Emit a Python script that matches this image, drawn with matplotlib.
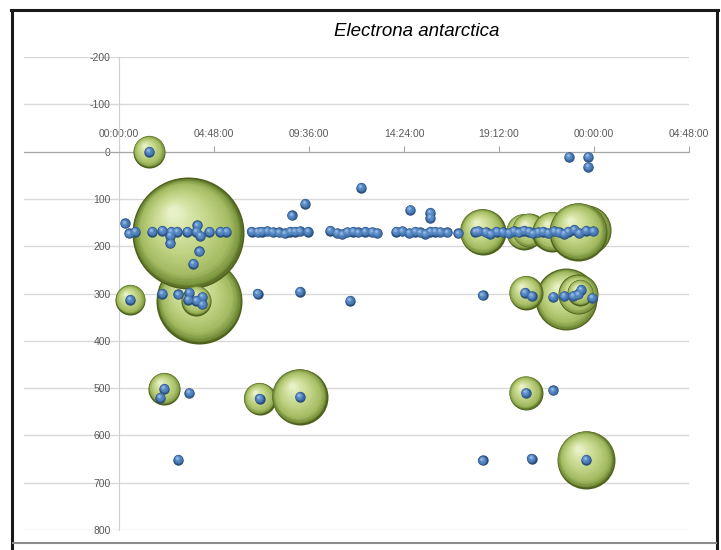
import numpy as np
import matplotlib
matplotlib.use("Agg")
import matplotlib.pyplot as plt
from matplotlib.colors import LinearSegmentedColormap
from matplotlib.lines import Line2D
from matplotlib.ticker import FixedLocator, FuncFormatter
from matplotlib.transforms import ScaledTranslation

plt.rcParams["axes.unicode_minus"] = False
plt.rcParams["font.family"] = ["Liberation Sans", "DejaVu Sans"]

# hauls: time of day (hours) and depth (m); blue = all stations
blue_hours = [
    1.52, 22.73, 23.70, 23.70,
    0.30, 0.51, 0.81, 1.67, 2.18, 2.64, 2.94, 2.59, 2.59, 3.45, 3.96, 3.91,
    4.11, 4.57, 5.12, 5.43, 4.06, 3.75,
    6.70, 7.00, 7.20, 7.50, 7.76, 8.07, 8.37, 8.63, 8.88, 9.13, 9.54, 10.66,
    11.01, 11.26, 11.52, 11.82, 12.08, 12.43, 12.79, 13.04, 14.00, 14.31,
    14.66, 14.97, 15.22, 15.48, 15.73, 15.98, 16.24, 16.59, 17.15,
    8.73, 9.39, 12.23, 14.71, 15.73, 15.73,
    18.01, 18.16, 18.52, 18.77, 19.08, 19.38, 19.69, 19.94, 20.19, 20.45,
    20.70, 20.90, 21.16, 21.41, 21.67, 21.97, 22.22, 22.48, 22.68, 22.99,
    23.24, 23.59, 23.95,
    0.56, 2.18, 2.99, 3.55, 3.50, 3.91, 4.21, 4.21, 7.00, 9.13, 11.67,
    18.37, 20.50, 20.85, 21.92, 22.48, 22.93, 23.19, 23.34, 23.90,
    2.28, 2.08, 3.55, 7.10, 9.13, 20.55, 21.92,
    2.99, 18.37, 20.85, 23.59,
]
blue_depths = [
    0, 11, 11, 32,
    152, 173, 169, 169, 167, 169, 169, 178, 194, 169, 156, 169,
    178, 169, 169, 169, 211, 237,
    169, 170, 169, 168, 170, 171, 173, 169, 169, 168, 169, 167,
    172, 175, 170, 169, 171, 169, 170, 172, 169, 168,
    172, 169, 171, 174, 169, 169, 170, 171, 173,
    135, 110, 76, 123, 129, 140,
    169, 168, 170, 174, 169, 170, 172, 168, 171, 167,
    169, 173, 170, 169, 172, 168, 170, 174, 169, 165,
    172, 167, 168,
    313, 300, 302, 298, 313, 315, 307, 323, 300, 296, 315,
    304, 298, 305, 307, 305, 305, 302, 292, 309,
    501, 520, 510, 522, 518, 510, 505,
    651, 653, 649, 651,
]

# positive catches of Electrona antarctica (green bubbles)
catch_hours = [1.52, 4.06, 3.50, 3.91, 0.56, 2.28, 7.10, 9.13,
               18.37, 20.45, 20.70, 21.70, 21.90, 23.60, 23.20,
               22.60, 20.55, 23.19, 23.30, 20.55, 23.59]
catch_depths = [0, 315, 173, 315, 313, 501, 522, 518,
                169, 169, 166, 175, 169, 166, 169,
                312, 298, 302, 298, 510, 651]
catch_counts = [8.2, 59.0, 100.0, 7.2, 7.2, 8.2, 8.2, 25.0,
                16.9, 10.3, 9.2, 8.2, 12.8, 20.0, 26.8,
                30.6, 9.2, 12.8, 5.4, 9.2, 26.8]

x_ticks = [0.0, 0.2, 0.4, 0.6, 0.8, 1.0, 1.2]
y_ticks = list(range(-200, 801, 100))

DPI = 100
W, H = 721, 550
MAX_R = 56  # pixel radius of the largest catch bubble
BLUE_R = 5.2
LIGHT_DIR = (-0.3, 0.42)

green_cmap = LinearSegmentedColormap.from_list("green3d", [
    (0.00, "#4d601c"), (0.06, "#7a943e"), (0.18, "#a3bb62"),
    (0.45, "#c0d384"), (0.75, "#d9e6aa"), (1.00, "#f2f7dc")])
blue_cmap = LinearSegmentedColormap.from_list("blue3d", [
    (0.00, "#2a4c78"), (0.20, "#4274ae"), (0.55, "#5f90cb"),
    (1.00, "#c0d6f1")])


def shade(ax, xs, ys, r_px, cmap, layers, zorder):
    """Stack shrinking circles shifted toward the light to fake a 3D ball."""
    fig = ax.figure
    for i in range(layers):
        t = 0.92 * i / layers
        rr = r_px * (1 - t)
        off = ScaledTranslation(LIGHT_DIR[0] * r_px * t / fig.dpi,
                                LIGHT_DIR[1] * r_px * t / fig.dpi,
                                fig.dpi_scale_trans)
        ax.scatter(xs, ys, s=(2 * rr * 72 / fig.dpi) ** 2, color=cmap(t),
                   linewidths=0, transform=ax.transData + off, zorder=zorder)


def day_label(v, pos):
    secs = int(round((v % 1) * 86400))
    return f"{secs // 3600:02d}:{secs % 3600 // 60:02d}:{secs % 60:02d}"


fig = plt.figure(figsize=(W / DPI, H / DPI), dpi=DPI)
ax = fig.add_axes([24 / W, 1 - 530 / H, 665 / W, 473 / H])
ax.set_xlim(-0.2, 1.2)
ax.set_ylim(800, -200)

for side in ("right", "bottom"):
    ax.spines[side].set_visible(False)
ax.spines["top"].set_position(("data", 0))
ax.spines["top"].set_color("#a6a6a6")
ax.spines["left"].set_position(("data", 0))
ax.spines["left"].set_color("#d0d0d0")

ax.xaxis.set_ticks_position("top")
ax.xaxis.set_major_locator(FixedLocator(x_ticks))
ax.xaxis.set_major_formatter(FuncFormatter(day_label))
ax.tick_params(axis="x", direction="out", length=4, color="#a6a6a6",
               pad=5, labelsize=7.5, labelcolor="#595959")
ax.yaxis.set_major_locator(FixedLocator(y_ticks))
ax.tick_params(axis="y", length=0, pad=6, labelsize=7.5, labelcolor="#595959")
ax.yaxis.grid(True, color="#d9d9d9", lw=1)
ax.set_axisbelow(True)

catch_days = np.array(catch_hours) / 24
radii = MAX_R * np.sqrt(np.array(catch_counts) / max(catch_counts))
for d, z, r in zip(catch_days, catch_depths, radii):
    shade(ax, [d], [z], r, green_cmap, 36, 3)

shade(ax, np.array(blue_hours) / 24, blue_depths, BLUE_R, blue_cmap, 9, 4)

fig.text(417 / W, 1 - 32 / H, "Electrona antarctica", ha="center",
         va="center", style="italic", fontsize=13.5)

# chart frame
def px_line(xs, ys, **kw):
    fig.add_artist(Line2D([x / W for x in xs], [1 - y / H for y in ys],
                          transform=fig.transFigure, **kw))

px_line([12, 12], [10, 551], color="#1a1a1a", lw=2.2)
px_line([11, 718], [10, 10], color="#1a1a1a", lw=2.2)
px_line([717, 717], [10, 551], color="#1a1a1a", lw=2.2)
px_line([13, 716], [543, 543], color="#8c8c8c", lw=1.5)

fig.savefig("out.png", dpi=DPI)
